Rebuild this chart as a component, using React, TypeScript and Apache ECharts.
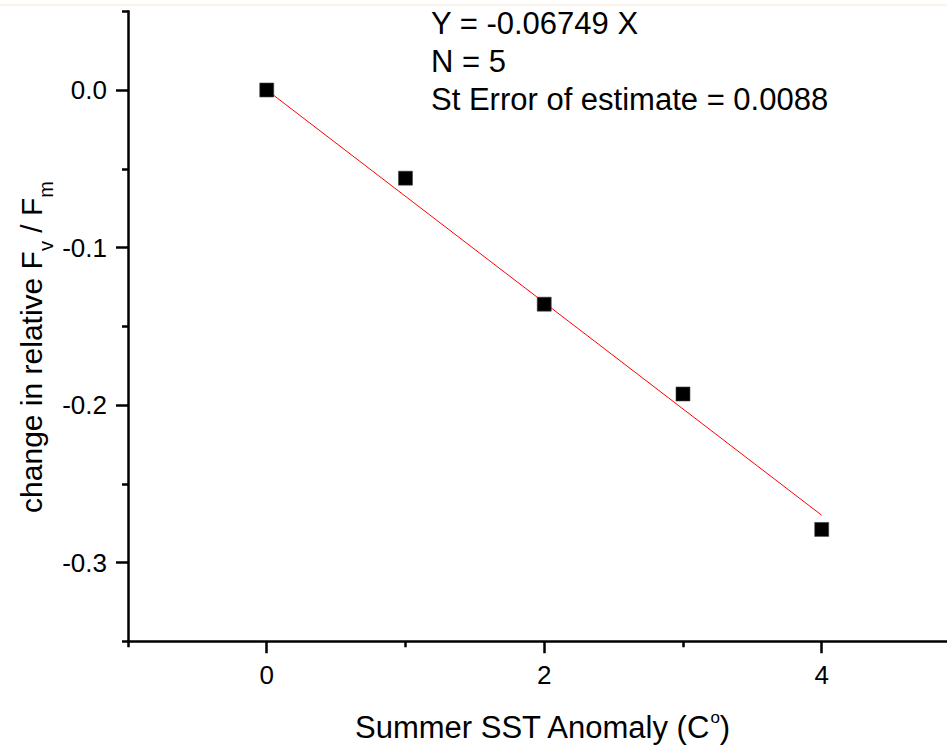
import React, { useEffect, useRef } from 'react';
import * as echarts from 'echarts';

// Summer SST anomaly (°C) and the change in relative Fv/Fm
const anomalyX = [0, 1, 2, 3, 4];
const fvFmChange = [0.0, -0.056, -0.136, -0.193, -0.279];

// regression line Y = -0.06749 X, drawn between its end points
const fitX = [0, 4];
const fitY = [0.0, -0.27];

const xMajorTicks = [0, 2, 4];
const xMinorTicks = [-1, 1, 3];
const yMajorTicks = [0, -0.1, -0.2, -0.3];
const yMinorTicks = [0.05, -0.05, -0.15, -0.25, -0.35];

const annotationLines = ['Y = -0.06749 X', 'N = 5', 'St Error of estimate = 0.0088'];

const FONT = '"Liberation Sans", Arial, sans-serif';

export default function App() {
  const ref = useRef<HTMLDivElement>(null);

  useEffect(() => {
    if (!ref.current) return;
    const chart = echarts.init(ref.current, undefined, { renderer: 'svg' });
    const axisColor = '#000';
    const lw = 2.5;
    const xMin = -1;
    const xMax = 4.903;
    const yMin = -0.35;
    const yMax = 0.05;

    const option: any = {
      animation: false,
      backgroundColor: '#fff',
      grid: { left: 128, right: 0, top: 11.25, bottom: 105.75, containLabel: false },
      xAxis: [
        {
          type: 'value', min: xMin, max: xMax, position: 'bottom',
          axisLine: { show: true, onZero: false, lineStyle: { color: axisColor, width: lw } },
          axisTick: { show: true, inside: false, length: 6, customValues: xMinorTicks, lineStyle: { color: axisColor, width: lw } },
          axisLabel: { show: false },
          splitLine: { show: false },
        },
        {
          type: 'value', min: xMin, max: xMax, position: 'bottom',
          axisLine: { show: false, onZero: false },
          axisTick: { show: true, inside: false, length: 12, customValues: xMajorTicks, lineStyle: { color: axisColor, width: lw } },
          axisLabel: { show: true, customValues: xMajorTicks, margin: 21, fontSize: 26, fontFamily: FONT, color: '#000' },
          splitLine: { show: false },
        },
      ],
      yAxis: [
        {
          type: 'value', min: yMin, max: yMax, position: 'left',
          axisLine: { show: true, onZero: false, lineStyle: { color: axisColor, width: lw } },
          axisTick: { show: true, inside: false, length: 6, customValues: yMinorTicks, lineStyle: { color: axisColor, width: lw } },
          axisLabel: { show: false },
          splitLine: { show: false },
        },
        {
          type: 'value', min: yMin, max: yMax, position: 'left',
          axisLine: { show: false, onZero: false },
          axisTick: { show: true, inside: false, length: 12, customValues: yMajorTicks, lineStyle: { color: axisColor, width: lw } },
          axisLabel: {
            show: true, customValues: yMajorTicks, margin: 21, fontSize: 26, fontFamily: FONT, color: '#000',
            formatter: (v: number) => v.toFixed(1),
          },
          splitLine: { show: false },
        },
      ],
      series: [
        {
          type: 'line',
          xAxisIndex: 0, yAxisIndex: 0,
          data: fitX.map((x, i) => [x, fitY[i]]),
          showSymbol: false, symbol: 'none',
          lineStyle: { color: '#ff0000', width: 1 },
          z: 3,
        },
        {
          type: 'scatter',
          xAxisIndex: 0, yAxisIndex: 0,
          data: anomalyX.map((x, i) => [x, fvFmChange[i]]),
          symbol: 'rect', symbolSize: 14,
          itemStyle: { color: '#000', opacity: 1, borderColor: '#444', borderWidth: 0.6 },
          z: 4,
        },
      ],
      graphic: [
        { type: 'line', shape: { x1: 0, y1: 5, x2: 947, y2: 5 }, style: { stroke: '#f4e9d4', lineWidth: 1 }, silent: true },
        {
          type: 'text', x: 431, y: 4,
          style: { text: annotationLines.join('\n'), fontSize: 31, fontFamily: FONT, fill: '#000', lineHeight: 38, align: 'left', verticalAlign: 'top' },
        },
        {
          type: 'text', x: 542, y: 727,
          style: {
            text: '{n|Summer SST Anomaly (C}{s|o}{n|)}',
            align: 'center', verticalAlign: 'middle',
            rich: {
              n: { fontSize: 31, fontFamily: FONT, fill: '#000' },
              s: { fontSize: 17, fontFamily: FONT, fill: '#000', padding: [0, 0, 20, 0] },
            },
          },
        },
        {
          type: 'text', x: 31, y: 347, rotation: Math.PI / 2,
          style: {
            text: '{n|change in relative F}{b|v}{n| / F}{b|m}',
            align: 'center', verticalAlign: 'middle',
            rich: {
              n: { fontSize: 30, fontFamily: FONT, fill: '#000' },
              b: { fontSize: 20, fontFamily: FONT, fill: '#000', padding: [30, 0, 0, 0] },
            },
          },
        },
      ],
    };

    chart.setOption(option);
    return () => chart.dispose();
  }, []);

  return (
    <div
      ref={ref}
      style={{ position: 'fixed', left: 0, top: 0, width: 947, height: 747 }}
    />
  );
}
